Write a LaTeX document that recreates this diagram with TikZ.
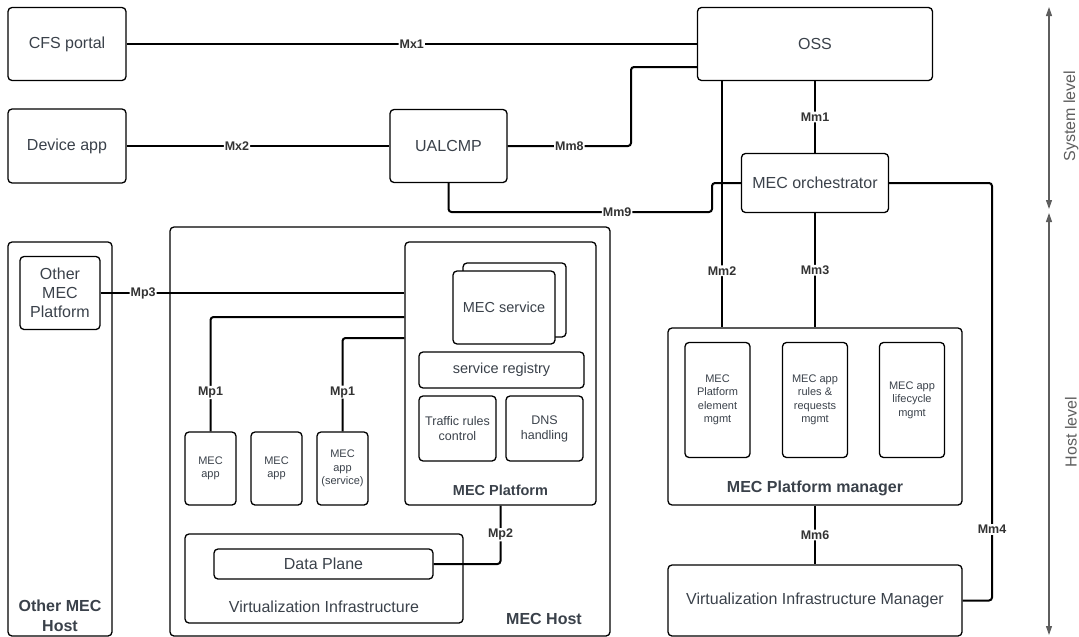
\documentclass[tikz,border=0pt]{standalone}
\usepackage{fontspec}
\setmainfont{Liberation Sans}
\usetikzlibrary{arrows.meta}
\definecolor{txtgray}{HTML}{3A414A}
\definecolor{lvlgray}{HTML}{5E5E5E}

\begin{document}
\begin{tikzpicture}[x=1pt, y=-1pt,
  box/.style={draw, line width=1.3pt, rounded corners=4pt, text=txtgray, align=center, inner sep=0pt, font=\fontsize{16}{19}\selectfont},
  small/.style={font=\fontsize{11}{13.5}\selectfont},
  mid/.style={font=\fontsize{14.5}{17}\selectfont},
  conn/.style={line width=2pt, rounded corners=3pt},
  lbl/.style={fill=white, inner sep=1pt, text=black!80, font=\bfseries\fontsize{12.5}{14}\selectfont},
  title/.style={text=txtgray, align=center, font=\bfseries\fontsize{16}{20}\selectfont},
  lvl/.style={draw=lvlgray, line width=1.1pt, arrows={Triangle[length=9pt,width=6pt]-Triangle[length=9pt,width=6pt]}}
]
\useasboundingbox (0,0) rectangle (1079,637);

% System level
\node[box, minimum width=118pt, minimum height=73pt] (cfs) at (67,44) {CFS portal};
\node[box, minimum width=118pt, minimum height=74pt] (dev) at (67,146) {Device app};
\node[box, minimum width=117pt, minimum height=73pt] (ualcmp) at (448.5,146) {UALCMP};
\node[box, minimum width=235pt, minimum height=73pt] (oss) at (815,44) {OSS};
\node[box, minimum width=147pt, minimum height=59pt] (orch) at (815,183) {MEC orchestrator};

% Other MEC Host
\node[box, minimum width=104pt, minimum height=394pt] (othhost) at (60,439) {};
\node[title] (othhostlbl) at (60,616) {Other MEC\\Host};
\node[box, minimum width=80pt, minimum height=73pt] (othplat) at (60,293) {Other\\MEC\\Platform};

% MEC Host
\node[box, minimum width=440pt, minimum height=409pt] (host) at (390,431.5) {};
\node[title] (hostlbl) at (544,619) {MEC Host};
\node[box, minimum width=191pt, minimum height=263pt] (plat) at (500.5,373.5) {};
\node[title, font=\bfseries\fontsize{14.5}{17}\selectfont] (platlbl) at (500.5,490) {MEC Platform};
\node[box, fill=white, minimum width=103pt, minimum height=74pt] (svcback) at (514.5,300) {};
\node[box, mid, fill=white, minimum width=102pt, minimum height=73pt] (svc) at (504,307.5) {MEC service};
\node[box, mid, minimum width=165pt, minimum height=36pt] (reg) at (501.5,370) {service registry};
\node[box, font=\fontsize{12.5}{15}\selectfont, minimum width=77pt, minimum height=65pt] (traffic) at (457.5,428.5) {Traffic rules\\control};
\node[box, font=\fontsize{12.5}{15}\selectfont, minimum width=77pt, minimum height=65pt] (dns) at (544.5,428.5) {DNS\\handling};
\foreach \n/\x/\t in {app1/210.5/{MEC\\app}, app2/276.5/{MEC\\app}, app3/342.5/{MEC\\app\\(service)}}
  \node[box, small, minimum width=51pt, minimum height=73pt] (\n) at (\x,468.5) {\t};
\node[box, minimum width=278pt, minimum height=89pt] (vi) at (324,578.5) {};
\node[text=txtgray, font=\fontsize{16}{19}\selectfont] (vilbl) at (324,607) {Virtualization Infrastructure};
\node[box, minimum width=219pt, minimum height=30pt] (dp) at (323.5,564) {Data Plane};

% MEC Platform manager
\node[box, minimum width=294pt, minimum height=177pt] (pm) at (815,416.5) {};
\node[title] (pmlbl) at (815,488) {MEC Platform manager};
\foreach \n/\x/\t in {pm1/717.5/{MEC\\Platform\\element\\mgmt}, pm2/815/{MEC app\\rules \&\\requests\\mgmt}, pm3/912/{MEC app\\lifecycle\\mgmt}}
  \node[box, small, minimum width=65pt, minimum height=115pt] (\n) at (\x,400) {\t};
\node[box, minimum width=294pt, minimum height=71pt] (vim) at (815,600.5) {Virtualization Infrastructure Manager};

% Mx / Mm reference points
\draw[conn] (cfs.east) -- node[lbl]{Mx1} (oss.west);
\draw[conn] (dev.east) -- node[lbl, pos=0.42]{Mx2} (ualcmp.west);
\draw[conn] (ualcmp.east) -- node[lbl]{Mm8} (631,146) |- ([yshift=-23pt]oss.west);
\draw[conn] (ualcmp.south) -- (448.5,212) -- node[lbl, pos=0.64]{Mm9} (712,212) -- (712,183) -- (orch.west);
\draw[conn] (oss.south) -- node[lbl]{Mm1} (orch.north);
\draw[conn] ([xshift=-93pt]oss.south) -- node[lbl, pos=0.77]{Mm2} ([xshift=-93pt]pm.north);
\draw[conn] (orch.south) -- node[lbl]{Mm3} (pm.north);
\draw[conn] (orch.east) -- (992,183) -- node[lbl, pos=0.83]{Mm4} (992,600.5) -- (vim.east);
\draw[conn] (pm.south) -- node[lbl]{Mm6} (vim.north);

% Mp reference points
\draw[conn] (othplat.east) -- node[lbl, pos=0.14]{Mp3} (othplat.east -| plat.west);
\draw[conn] ([yshift=56.5pt]plat.west) -| node[lbl, pos=0.83]{Mp1} (app1.north);
\draw[conn] ([yshift=35.5pt]plat.west) -| node[lbl, pos=0.79]{Mp1} (app3.north);
\draw[conn] (plat.south) |- node[lbl, pos=0.25]{Mp2} (dp.east);

% levels
\coordinate (systop) at (1049,7);
\coordinate (sysbot) at (1049,209);
\coordinate (hosttop) at (1049,213);
\coordinate (hostbot) at (1049,635);
\draw[lvl] (systop) -- (sysbot);
\draw[lvl] (hosttop) -- (hostbot);
\node[rotate=90, text=lvlgray, font=\fontsize{16}{19}\selectfont] (syslvl) at (1071,116) {System level};
\node[rotate=90, text=lvlgray, font=\fontsize{16}{19}\selectfont] (hostlvl) at (1071,432) {Host level};
\end{tikzpicture}
\end{document}
